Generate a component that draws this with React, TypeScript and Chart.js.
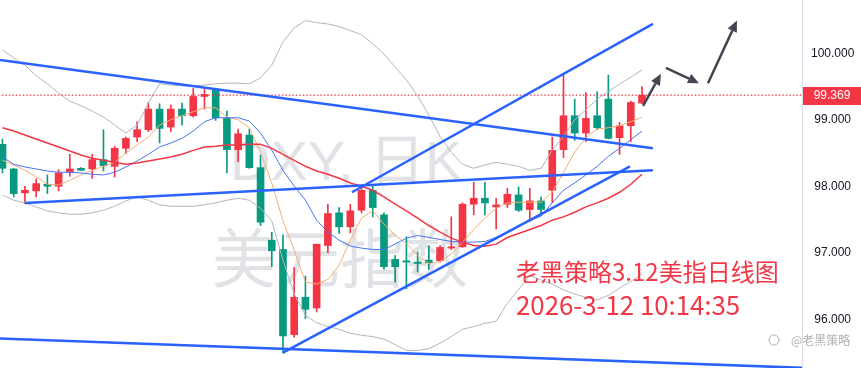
import React, { useEffect, useRef } from 'react';
import { Chart, registerables } from 'chart.js';

Chart.register(...registerables);

// ---- Candles (daily DXY), oldest -> newest ----
const opens = [98.63, 98.26, 97.90, 97.93, 98.03, 98.00, 98.22, 98.27, 98.26, 98.40,
  98.30, 98.57, 98.74, 98.85, 99.16, 98.89, 99.16, 99.06, 99.35, 99.46,
  99.02, 98.55, 98.77, 98.28, 97.19, 97.05, 95.77, 96.33, 96.17, 97.11,
  97.60, 97.39, 97.64, 97.94, 97.57, 96.90, 96.88, 96.86, 96.89, 96.88,
  97.07, 97.09, 97.73, 97.82, 97.69, 97.73, 97.87, 97.65, 97.78, 97.94,
  98.55, 99.06, 98.80, 99.06, 99.31, 98.73, 98.91, 99.25];
const highs = [98.71, 98.27, 98.00, 98.11, 98.17, 98.25, 98.48, 98.28, 98.48, 98.85,
  98.60, 98.74, 98.97, 99.26, 99.24, 99.22, 99.25, 99.47, 99.47, 99.47,
  99.13, 98.86, 98.86, 98.47, 97.31, 97.27, 96.78, 96.65, 97.13, 97.73,
  97.68, 97.73, 98.02, 98.02, 97.60, 96.96, 97.24, 97.01, 97.11, 97.11,
  97.54, 97.75, 98.06, 98.06, 97.82, 97.97, 97.99, 97.97, 97.84, 98.74,
  99.67, 99.31, 99.41, 99.42, 99.67, 98.96, 99.28, 99.50];
const lows = [98.20, 97.84, 97.74, 97.84, 97.89, 97.93, 98.15, 98.24, 98.12, 98.23,
  98.14, 98.49, 98.67, 98.82, 98.65, 98.82, 98.92, 99.04, 99.16, 98.99,
  98.20, 98.37, 98.27, 97.41, 96.79, 95.49, 95.73, 96.01, 96.11, 97.00,
  97.29, 97.30, 97.60, 97.54, 96.75, 96.56, 96.46, 96.71, 96.75, 96.86,
  97.05, 97.08, 97.57, 97.57, 97.36, 97.68, 97.62, 97.47, 97.57, 97.75,
  98.43, 98.69, 98.67, 98.85, 98.71, 98.48, 98.67, 99.24];
const closes = [98.27, 97.89, 97.94, 98.04, 98.00, 98.20, 98.26, 98.24, 98.40, 98.31,
  98.57, 98.72, 98.85, 99.16, 98.87, 99.16, 99.06, 99.35, 99.38, 99.03,
  98.55, 98.79, 98.28, 97.46, 97.03, 95.75, 96.33, 96.15, 97.13, 97.59,
  97.39, 97.63, 97.94, 97.68, 96.79, 96.79, 96.86, 96.84, 96.85, 97.08,
  97.09, 97.73, 97.82, 97.75, 97.72, 97.88, 97.64, 97.78, 97.65, 98.54,
  99.06, 98.80, 99.02, 98.88, 98.72, 98.91, 99.26, 99.369];

// ---- Overlays ----
const maFast = [98.39, 98.32, 98.24, 98.14, 98.03, 98.02, 98.09, 98.17, 98.24, 98.30,
  98.36, 98.50, 98.62, 98.74, 98.92, 99.00, 99.06, 99.12, 99.18, 99.18,
  99.04, 99.00, 98.88, 98.51, 98.05, 97.48, 97.04, 96.56, 96.53, 96.60,
  96.81, 97.19, 97.52, 97.63, 97.43, 97.26, 97.14, 96.96, 96.84, 96.87,
  96.98, 97.16, 97.35, 97.52, 97.67, 97.75, 97.76, 97.76, 97.76, 97.91,
  98.21, 98.51, 98.73, 98.86, 98.88, 98.91, 98.97, 99.04];
const maMid = [98.44, 98.33, 98.29, 98.26, 98.23, 98.21, 98.21, 98.20, 98.18, 98.17,
  98.21, 98.29, 98.38, 98.48, 98.59, 98.65, 98.72, 98.83, 98.97, 99.03,
  99.03, 99.03, 98.98, 98.80, 98.54, 98.24, 98.00, 97.79, 97.49, 97.31,
  97.19, 97.10, 97.07, 97.05, 97.05, 97.13, 97.22, 97.26, 97.23, 97.20,
  97.17, 97.16, 97.16, 97.17, 97.23, 97.31, 97.41, 97.48, 97.55, 97.75,
  97.94, 98.05, 98.17, 98.30, 98.45, 98.57, 98.70, 98.83];
const maSlow = [98.88, 98.83, 98.77, 98.71, 98.65, 98.59, 98.53, 98.47, 98.42, 98.39,
  98.36, 98.33, 98.35, 98.38, 98.41, 98.44, 98.48, 98.54, 98.59, 98.60,
  98.62, 98.62, 98.63, 98.63, 98.57, 98.48, 98.39, 98.30, 98.23, 98.18,
  98.12, 98.05, 98.00, 97.94, 97.84, 97.73, 97.63, 97.52, 97.41, 97.31,
  97.22, 97.16, 97.11, 97.10, 97.13, 97.23, 97.29, 97.35, 97.41, 97.49,
  97.54, 97.61, 97.69, 97.75, 97.82, 97.91, 98.03, 98.18];
const bbUpper = [100.05, 99.93, 99.82, 99.66, 99.54, 99.40, 99.28, 99.21, 99.13, 99.04,
  98.92, 98.80, 98.92, 99.25, 99.54, 99.52, 99.51, 99.51, 99.52, 99.54,
  99.55, 99.55, 99.54, 99.63, 99.82, 100.17, 100.38, 100.49, 100.46, 100.44,
  100.40, 100.34, 100.28, 100.14, 99.99, 99.79, 99.60, 99.36, 99.07, 98.75,
  98.51, 98.33, 98.27, 98.32, 98.36, 98.33, 98.30, 98.24, 98.27, 98.54,
  98.75, 99.00, 99.15, 99.31, 99.42, 99.54, 99.64, 99.75];
const bbLower = [97.87, 97.79, 97.75, 97.69, 97.63, 97.60, 97.58, 97.58, 97.60, 97.64,
  97.70, 97.78, 97.84, 97.79, 97.72, 97.70, 97.70, 97.70, 97.72, 97.75,
  97.79, 97.82, 97.79, 97.67, 97.48, 96.89, 96.38, 96.06, 95.95, 95.89,
  95.85, 95.79, 95.76, 95.74, 95.70, 95.62, 95.53, 95.53, 95.56, 95.64,
  95.74, 95.85, 95.89, 95.94, 95.97, 96.24, 96.45, 96.66, 96.59, 96.53,
  96.44, 96.38, 96.33, 96.29, 96.36, 96.47, 96.57, 96.68];

const yTicks = [96, 97, 98, 99, 100];
const lastPrice = 99.369;
const lastPriceLabel = '99.369';

// hand-drawn lines: [barIndex, price]
const trendDown = [[-0.223, 99.90], [57.97, 98.57]];
const trendFlat = [[2.0, 97.75], [57.97, 98.24]];
const channelUpper = [[31.15, 97.91], [57.97, 100.44]];
const channelLower = [[25.0, 95.50], [55.93, 98.30]];
const bottomLine = [[-0.223, 95.71], [71.26, 95.27]];
const arrows = [
  [[57.09, 99.21], [58.69, 99.69]],
  [[59.13, 99.78], [62.08, 99.55]],
  [[62.88, 99.55], [65.46, 100.49]],
];

const watermark1 = 'DXY, 日K';
const watermark2 = '美元指数';
const noteLine1 = '老黑策略3.12美指日线图';
const noteLine2 = '2026-3-12 10:14:35';
const signature = '@老黑策略';

const UP = '#f23645';
const DOWN = '#089981';

export default function App() {
  const ref = useRef<HTMLCanvasElement | null>(null);

  useEffect(() => {
    const canvas = ref.current;
    if (!canvas) return;
    const idx = closes.map((_, i) => i);
    const colors = idx.map((i) => (closes[i] >= opens[i] ? UP : DOWN));
    const series = (arr: number[]) => arr.map((v, i) => ({ x: i, y: v }));
    const seg = (pts: number[][]) => pts.map((p) => ({ x: p[0], y: p[1] }));

    const lineDs = (data: any[], color: string, width: number, order: number, extra: any = {}) => ({
      type: 'line' as const,
      data,
      borderColor: color,
      borderWidth: width,
      pointRadius: 0,
      tension: 0,
      order,
      ...extra,
    });

    const backPlugin = {
      id: 'back',
      beforeDatasetsDraw(chart: any) {
        const ctx = chart.ctx;
        ctx.save();
        ctx.fillStyle = '#e1e2e6';
        ctx.textBaseline = 'alphabetic';
        ctx.textAlign = 'left';
        ctx.font = '56px "Liberation Sans", "Noto Sans CJK SC", sans-serif';
        ctx.fillText(watermark1, 230, 180);
        ctx.font = '64px "Noto Sans CJK SC", sans-serif';
        ctx.fillText(watermark2, 212, 282);
        ctx.restore();
      },
    };

    const frontPlugin = {
      id: 'front',
      afterDatasetsDraw(chart: any) {
        const ctx = chart.ctx;
        const xs = chart.scales.x;
        const ys = chart.scales.y;
        ctx.save();
        ctx.strokeStyle = '#434651';
        ctx.fillStyle = '#434651';
        ctx.lineWidth = 2.5;
        arrows.forEach(([a, b]) => {
          const x1 = xs.getPixelForValue(a[0]);
          const y1 = ys.getPixelForValue(a[1]);
          const x2 = xs.getPixelForValue(b[0]);
          const y2 = ys.getPixelForValue(b[1]);
          const ang = Math.atan2(y2 - y1, x2 - x1);
          const hl = 11;
          const hw = 5;
          const bx = x2 - Math.cos(ang) * hl;
          const by = y2 - Math.sin(ang) * hl;
          ctx.beginPath();
          ctx.moveTo(x1, y1);
          ctx.lineTo(bx, by);
          ctx.stroke();
          ctx.beginPath();
          ctx.moveTo(x2, y2);
          ctx.lineTo(bx + Math.sin(ang) * hw, by - Math.cos(ang) * hw);
          ctx.lineTo(bx - Math.sin(ang) * hw, by + Math.cos(ang) * hw);
          ctx.closePath();
          ctx.fill();
        });
        ctx.fillStyle = '#f23645';
        ctx.textAlign = 'left';
        ctx.textBaseline = 'alphabetic';
        ctx.font = '24px "Noto Sans CJK SC", sans-serif';
        ctx.fillText(noteLine1, 516, 281);
        ctx.font = '25.8px "Noto Sans CJK SC", sans-serif';
        ctx.fillText(noteLine2, 516, 315);
        ctx.restore();
      },
      afterDraw(chart: any) {
        const ctx = chart.ctx;
        const ys = chart.scales.y;
        const area = chart.chartArea;
        const y = ys.getPixelForValue(lastPrice);
        ctx.save();
        ctx.fillStyle = UP;
        ctx.fillRect(area.right + 1, Math.round(y) - 8, chart.width - area.right - 1, 18);
        ctx.fillStyle = '#ffffff';
        ctx.font = '12px "Liberation Sans", sans-serif';
        ctx.textAlign = 'center';
        ctx.textBaseline = 'middle';
        ctx.fillText(lastPriceLabel, area.right + 30, Math.round(y) + 1);
        ctx.fillStyle = 'rgba(150,150,150,0.75)';
        ctx.font = '12px "Noto Sans CJK SC", sans-serif';
        ctx.textAlign = 'left';
        ctx.fillText(signature, 791, 340);
        ctx.strokeStyle = 'rgba(150,150,150,0.75)';
        ctx.lineWidth = 1;
        ctx.beginPath();
        ctx.arc(774, 340, 5, 0, Math.PI * 2);
        ctx.stroke();
        ctx.restore();
      },
    };

    const chart = new Chart(canvas, {
      type: 'bar',
      data: {
        datasets: [
          lineDs(seg(trendDown), '#2962ff', 2.5, 0),
          lineDs(seg(trendFlat), '#2962ff', 2.5, 0),
          lineDs(seg(channelUpper), '#2962ff', 2.5, 0),
          lineDs(seg(channelLower), '#2962ff', 2.5, 0),
          lineDs(seg(bottomLine), '#2962ff', 2.5, 0),
          lineDs(
            [{ x: -1, y: lastPrice }, { x: 80, y: lastPrice }],
            UP, 1.3, 1, { borderDash: [1.5, 2] }
          ),
          lineDs(series(maSlow), '#f23645', 1.5, 2),
          lineDs(series(maMid), '#4a72f5', 1, 2),
          lineDs(series(maFast), '#f7ad75', 1, 2),
          lineDs(series(bbUpper), '#b2b5be', 1, 3),
          lineDs(series(bbLower), '#b2b5be', 1, 3),
          {
            type: 'bar' as const,
            data: idx.map((i) => ({ x: i, y: [opens[i], closes[i]] })) as any,
            backgroundColor: colors,
            barThickness: 7,
            grouped: false,
            order: 10,
          },
          {
            type: 'bar' as const,
            data: idx.map((i) => ({ x: i, y: [lows[i], highs[i]] })) as any,
            backgroundColor: colors,
            barThickness: 1,
            grouped: false,
            order: 11,
          },
        ] as any,
      },
      options: {
        animation: false,
        responsive: false,
        events: [],
        layout: { padding: 0 },
        plugins: { legend: { display: false }, tooltip: { enabled: false } },
        scales: {
          x: {
            type: 'linear',
            min: -0.223,
            max: 71.26,
            offset: false,
            display: false,
            grid: { offset: false },
          },
          y: {
            type: 'linear',
            position: 'right',
            min: 95.268,
            max: 100.8,
            grid: { display: false, drawTicks: false },
            border: { display: true, color: '#d9d9ea', width: 1 },
            afterBuildTicks: (scale: any) => {
              scale.ticks = yTicks.map((v) => ({ value: v }));
            },
            afterFit: (scale: any) => {
              scale.width = 59;
              scale.paddingTop = 0;
              scale.paddingBottom = 0;
            },
            ticks: {
              padding: 9,
              crossAlign: 'center',
              color: '#131722',
              font: { family: '"Liberation Sans", sans-serif', size: 12 },
              callback: (v: any) => Number(v).toFixed(3),
            },
          },
        },
      } as any,
      plugins: [backPlugin, frontPlugin],
    });
    return () => chart.destroy();
  }, []);

  return (
    <div style={{ position: 'absolute', left: 0, top: 0, width: 861, height: 368, background: '#ffffff' }}>
      <canvas ref={ref} width={861} height={368} style={{ display: 'block', width: 861, height: 368 }} />
    </div>
  );
}
